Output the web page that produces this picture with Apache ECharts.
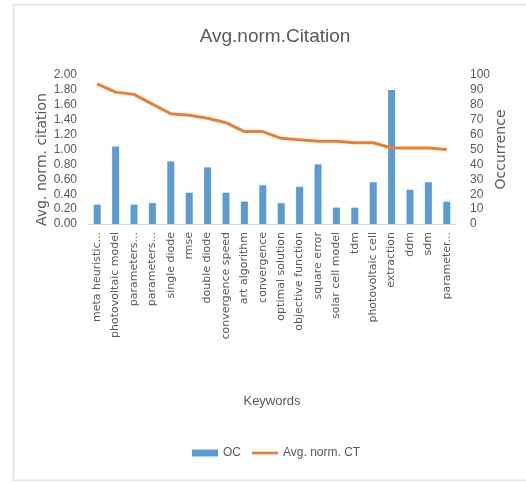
<!DOCTYPE html>
<html>
<head>
<meta charset="utf-8">
<style>
  html, body { margin: 0; padding: 0; background: #ffffff; }
  #chart { width: 526px; height: 483px; }
</style>
<script src="https://cdn.jsdelivr.net/npm/echarts@6/dist/echarts.min.js"></script>
</head>
<body>
<div id="chart"></div>
<script>
// Keywords along the category axis
var keywords = [
  'meta heuristic...', 'photovoltaic model', 'parameters...', 'parameters...',
  'single diode', 'rmse', 'double diode', 'convergence speed', 'art algorithm',
  'convergence', 'optimal solution', 'objective function', 'square error',
  'solar cell model', 'tdm', 'photovoltaic cell', 'extraction', 'ddm', 'sdm',
  'parameter...'
];

// Occurrence count per keyword (bars, right axis)
var occurrence = [13, 52, 13, 14, 42, 21, 38, 21, 15, 26, 14, 25, 40, 11, 11, 28, 90, 23, 28, 15];

// Average normalised citation per keyword (line, left axis)
var avgNormCitation = [1.88, 1.77, 1.74, 1.61, 1.48, 1.46, 1.42, 1.36, 1.24, 1.24,
                       1.15, 1.13, 1.11, 1.11, 1.09, 1.09, 1.02, 1.02, 1.02, 1.00];

var textGray = '#595959';
var narrow = '"Liberation Sans Narrow", "Liberation Sans", sans-serif';
var wide = '"DejaVu Sans", "Open Sans", sans-serif';

var chart = echarts.init(document.getElementById('chart'), null, { renderer: 'canvas' });

chart.setOption({
  animation: false,
  backgroundColor: '#ffffff',
  title: {
    text: 'Avg.norm.Citation',
    left: 270,
    textAlign: 'center',
    top: 22,
    textStyle: { fontFamily: narrow, fontSize: 19, fontWeight: 'normal', color: textGray }
  },
  graphic: [{
    type: 'rect',
    shape: { x: 13.5, y: 4.5, width: 530, height: 476 },
    style: { fill: 'none', stroke: '#e6e6e6', lineWidth: 2 },
    silent: true
  }],
  legend: {
    left: 192,
    top: 447,
    padding: 0,
    itemGap: 11,
    itemWidth: 26,
    itemHeight: 7,
    textStyle: { fontFamily: narrow, fontSize: 12, color: textGray },
    data: [
      { name: 'OC', icon: 'rect' },
      { name: 'Avg. norm. CT', icon: 'path://M0,0 L28,0 L28,3 L0,3 Z' }
    ]
  },
  grid: { left: 88, right: 70, top: 75, bottom: 259 },
  xAxis: {
    type: 'category',
    data: keywords,
    name: 'Keywords',
    nameLocation: 'middle',
    nameGap: 171,
    nameMoveOverlap: false,
    nameTextStyle: { fontFamily: narrow, fontSize: 13, color: textGray },
    axisLine: { lineStyle: { color: '#d9d9d9', width: 1 } },
    axisTick: { show: false },
    axisLabel: {
      interval: 0,
      rotate: 90,
      margin: 8,
      fontFamily: wide,
      fontSize: 11,
      color: textGray
    }
  },
  yAxis: [
    {
      type: 'value',
      min: 0,
      max: 2,
      interval: 0.2,
      name: 'Avg. norm. citation',
      nameLocation: 'middle',
      nameRotate: 90,
      nameGap: 39,
      nameMoveOverlap: false,
      nameTextStyle: { fontFamily: wide, fontSize: 14, color: textGray, padding: [0, 0, 0, -20] },
      axisLine: { show: false },
      axisTick: { show: false },
      splitLine: { show: false },
      axisLabel: {
        margin: 11,
        fontFamily: narrow,
        fontSize: 12,
        color: textGray,
        formatter: function (v) { return v.toFixed(2); }
      }
    },
    {
      type: 'value',
      min: 0,
      max: 100,
      interval: 10,
      name: 'Occurrence',
      nameLocation: 'middle',
      nameRotate: 90,
      nameGap: 38,
      nameMoveOverlap: false,
      nameTextStyle: { fontFamily: wide, fontSize: 14, color: textGray },
      axisLine: { show: false },
      axisTick: { show: false },
      splitLine: { show: false },
      axisLabel: {
        margin: 14,
        fontFamily: narrow,
        fontSize: 12,
        color: textGray
      }
    }
  ],
  series: [
    {
      name: 'OC',
      type: 'bar',
      yAxisIndex: 1,
      data: occurrence,
      barWidth: 7,
      itemStyle: { color: '#5b9bd5' }
    },
    {
      name: 'Avg. norm. CT',
      type: 'line',
      yAxisIndex: 0,
      data: avgNormCitation,
      symbol: 'none',
      lineStyle: { color: '#ed7d31', width: 3 },
      itemStyle: { color: '#ed7d31' }
    }
  ]
});
</script>
</body>
</html>
